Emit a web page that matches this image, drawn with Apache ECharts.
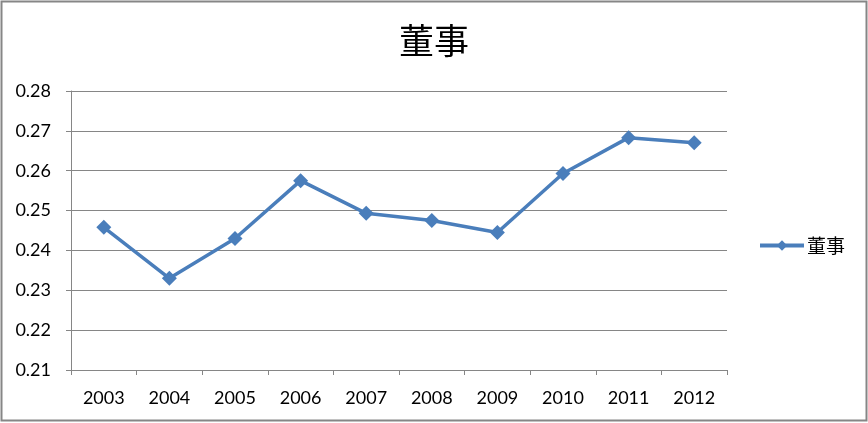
<!DOCTYPE html>
<html><head><meta charset="utf-8">
<script src="https://cdn.jsdelivr.net/npm/echarts@6/dist/echarts.min.js"></script>
<style>html,body{margin:0;padding:0;background:#fff}#c{width:868px;height:423px}</style>
</head><body><div id="c"></div>
<script>
const categories = ['2003','2004','2005','2006','2007','2008','2009','2010','2011','2012'];
const seriesName = '董事';
const values = [0.2458, 0.2330, 0.2430, 0.2575, 0.2493, 0.2475, 0.2445, 0.2593, 0.2683, 0.2670];
const yTicks = {min: 0.21, max: 0.28, interval: 0.01};

const chart = echarts.init(document.getElementById('c'), null, {renderer: 'canvas'});
const font = 'Lato, "Liberation Sans", sans-serif';
chart.setOption({
  animation: false,
  backgroundColor: '#fff',
  title: {
    text: seriesName, left: 'center', top: 18,
    textStyle: {fontFamily: '"Noto Sans CJK SC"', fontSize: 35, fontWeight: 'normal', color: '#000'}
  },
  legend: {
    data: [seriesName], left: 753, top: 231,
    itemWidth: 44, itemHeight: 13, itemGap: 4,
    lineStyle: {width: 4},
    textStyle: {fontFamily: '"Noto Sans CJK SC"', fontSize: 19, color: '#000', padding: [0,0,0,-2]}
  },
  grid: {left: 71, right: 141, top: 91, bottom: 53},
  xAxis: {
    type: 'category', data: categories, boundaryGap: true,
    axisLine: {lineStyle: {color: '#868686', width: 1}},
    axisTick: {show: true, length: 5, lineStyle: {color: '#868686'}},
    axisLabel: {fontFamily: font, fontSize: 18, color: '#000', margin: 19}
  },
  yAxis: {
    type: 'value', min: yTicks.min, max: yTicks.max, interval: yTicks.interval,
    axisLine: {show: true, lineStyle: {color: '#868686', width: 1}},
    axisTick: {show: true, length: 5, lineStyle: {color: '#868686'}},
    splitLine: {lineStyle: {color: '#868686', width: 1}},
    axisLabel: {fontFamily: font, fontSize: 18, color: '#000', margin: 20,
      formatter: v => v.toFixed(2)}
  },
  series: [{
    name: seriesName, type: 'line', data: values,
    symbol: 'diamond', symbolSize: 15,
    lineStyle: {color: '#4A7EBB', width: 3.5},
    itemStyle: {color: '#4A7EBB'}
  }],
  graphic: [{
    type: 'rect', shape: {x: 1.5, y: 1.5, width: 865, height: 419},
    style: {fill: 'none', stroke: '#868686', lineWidth: 2}, silent: true
  }]
});
</script></body></html>
